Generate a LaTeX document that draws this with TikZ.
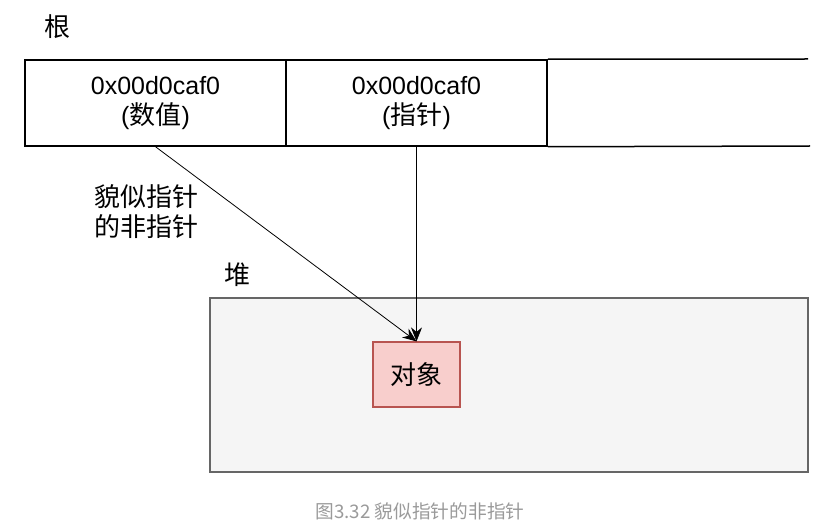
\documentclass[tikz,border=0pt]{standalone}
\usepackage{fontspec}
\setmainfont{Liberation Sans}
\newfontfamily\cjk[Scale=1.04]{Noto Sans CJK SC}
\usetikzlibrary{arrows.meta}

\definecolor{heapfill}{HTML}{F5F5F5}
\definecolor{heapline}{HTML}{666666}
\definecolor{objfill}{HTML}{F8CECC}
\definecolor{objline}{HTML}{B85450}
\definecolor{capgray}{HTML}{9A9A9A}

\begin{document}
\begin{tikzpicture}[x=1pt,y=-1pt,
  txt/.style={font=\fontsize{25}{30}\selectfont,align=center},
  cell/.style={txt,draw,line width=1.5pt,minimum width=261pt,minimum height=86pt,inner sep=0pt},
  ptr/.style={line width=0.8pt,-{Stealth[length=14pt,width=11pt]}}]

\useasboundingbox (0,0) rectangle (835,529);

% root label
\node[txt] (root) at (57,27) {\cjk 根};

% root cells
\node[cell] (value) at (155.5,103) {0x00d0caf0\\({\cjk 数值})};
\node[cell] (pointer) at (416.5,103) {0x00d0caf0\\({\cjk 指针})};

% open cell on the right
\coordinate (row end top) at (808,59);
\coordinate (row end bottom) at (810,146);
\draw[line width=1.5pt] (pointer.north east) -- (row end top);
\draw[line width=1.5pt] (pointer.south east) -- (row end bottom);

% heap
\node[txt] (heap label) at (237,275) {\cjk 堆};
\node[draw=heapline,fill=heapfill,line width=1.5pt,minimum width=598pt,minimum height=174pt] (heap) at (509,385) {};

% object node
\node[txt,draw=objline,fill=objfill,line width=1.2pt,minimum width=87pt,minimum height=65pt,inner sep=0pt] (object) at (416.5,374.5) {\cjk 对象};

% pointers
\draw[ptr] (value.south) -- (object.north);
\draw[ptr] (pointer.south) -- (object.north);
\node[txt] (fake label) at (146,212) {\cjk 貌似指针\\\cjk 的非指针};

% caption
\node[font=\fontsize{18}{20}\selectfont,text=capgray] (caption) at (420,511) {\cjk 图3.32 貌似指针的非指针};

\end{tikzpicture}
\end{document}
